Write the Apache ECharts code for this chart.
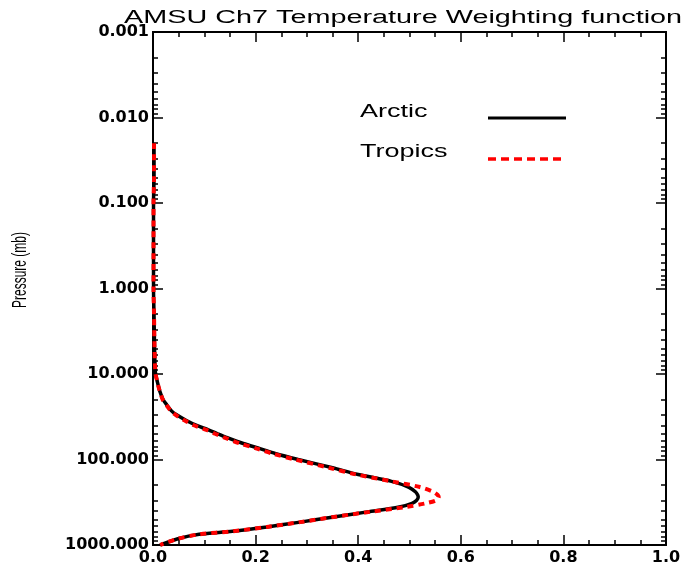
<!DOCTYPE html>
<html><head><meta charset="utf-8">
<script src="https://cdn.jsdelivr.net/npm/echarts@6/dist/echarts.min.js"></script>
<style>html,body{margin:0;padding:0;background:#fff}#c{width:697px;height:570px}</style>
</head><body><div id="c"></div>
<script>
// Pressure levels (mb)
const pressure = [0.02,0.05,0.1,0.2,0.5,1,2,5,8,10,12,15,17,20,23,27,30,35,40,45,50,55,65,75,85,100,125,150,180,210,240,260,275,300,325,360,410,470,540,615,690,750,850,1000];
// Weighting function values
const arctic = [0.002,0.002,0.001,0.001,0.001,0.001,0.002,0.003,0.004,0.005,0.008,0.012,0.015,0.020,0.027,0.036,0.046,0.065,0.085,0.108,0.126,0.143,0.176,0.210,0.238,0.283,0.350,0.400,0.465,0.498,0.512,0.516,0.517,0.514,0.505,0.480,0.418,0.352,0.287,0.222,0.155,0.090,0.047,0.014];
const tropics = [0.002,0.002,0.001,0.001,0.001,0.001,0.002,0.003,0.004,0.005,0.008,0.012,0.015,0.019,0.026,0.035,0.044,0.062,0.081,0.104,0.121,0.138,0.170,0.204,0.232,0.277,0.343,0.397,0.465,0.520,0.547,0.555,0.557,0.552,0.532,0.492,0.422,0.352,0.287,0.222,0.155,0.090,0.047,0.014];
// Tick values
const yMajorTicks = [0.001,0.01,0.1,1,10,100,1000];
const yMinorMultipliers = [2,3,4,5,6,7,8,9];
const xMin = 0, xMax = 1, xInterval = 0.2;
const seriesNames = ['Arctic','Tropics'];
const titleText = 'AMSU Ch7 Temperature Weighting function';
const yName = 'Pressure (mb)';

const yMinorTicks = [];
yMajorTicks.slice(0,-1).forEach(d => yMinorMultipliers.forEach(k => yMinorTicks.push(+(k*d).toPrecision(3))));

const labelFont = {color:'#000', fontFamily:'DejaVu Sans', fontSize:16, fontWeight:'bold'};

function yAx(pos, ticks, len, showLabel) {
  return {
    type:'log', logBase:10, min:0.001, max:1000, inverse:true, position:pos,
    axisLine:{show:true, onZero:false, lineStyle:{color:'#000', width:2}},
    axisTick:{show:true, inside:true, length:len, customValues:ticks, lineStyle:{color:'#000', width:1.5}},
    axisLabel: showLabel ? Object.assign({show:true, customValues:yMajorTicks, margin:4, formatter:v => Number(v).toFixed(3)}, labelFont) : {show:false},
    splitLine:{show:false}, minorTick:{show:false}, minorSplitLine:{show:false}
  };
}
function xAx(pos, showLabel) {
  return {
    type:'value', min:xMin, max:xMax, interval:xInterval, position:pos,
    axisLine:{show:true, onZero:false, lineStyle:{color:'#000', width:2}},
    axisTick:{show:true, inside:true, length:10, lineStyle:{color:'#000', width:1.5}},
    minorTick:{show:true, splitNumber:4, length:5, lineStyle:{color:'#000', width:1.5}},
    axisLabel: showLabel ? Object.assign({show:true, margin:5, formatter:v => Number(v).toFixed(1)}, labelFont) : {show:false},
    splitLine:{show:false}
  };
}

const chart = echarts.init(document.getElementById('c'), null, {renderer:'canvas'});
chart.setOption({
  animation:false,
  backgroundColor:'#fff',
  grid:{left:153, right:31, top:32, bottom:25, containLabel:false},
  xAxis:[xAx('bottom', true), xAx('top', false)],
  yAxis:[yAx('left', yMajorTicks, 10, true), yAx('left', yMinorTicks, 5, false), yAx('right', yMajorTicks, 10, false), yAx('right', yMinorTicks, 5, false)],
  series:[
    {name:seriesNames[0], type:'line', xAxisIndex:0, yAxisIndex:0, symbol:'none', smooth:0.3,
     data:pressure.map((p,i)=>[arctic[i], p]), lineStyle:{color:'#000', width:3.5}},
    {name:seriesNames[1], type:'line', xAxisIndex:0, yAxisIndex:0, symbol:'none', smooth:0.3,
     data:pressure.map((p,i)=>[tropics[i], p]), lineStyle:{color:'#ff0000', width:4, type:[6,5]}}
  ],
  graphic:[
    {type:'text', x:124, y:18, scaleX:1.6, style:{text:titleText, font:'18px "Liberation Sans"', fill:'#000', textAlign:'left', textVerticalAlign:'middle'}},
    {type:'text', x:20, y:270, rotation:Math.PI/2, scaleX:0.6, style:{text:yName, font:'20px "Liberation Sans"', fill:'#000', textAlign:'center', textVerticalAlign:'middle'}},
    {type:'text', x:360, y:112, scaleX:1.5, style:{text:seriesNames[0], font:'18px "Liberation Sans"', fill:'#000', textAlign:'left', textVerticalAlign:'middle'}},
    {type:'text', x:360, y:152, scaleX:1.5, style:{text:seriesNames[1], font:'18px "Liberation Sans"', fill:'#000', textAlign:'left', textVerticalAlign:'middle'}},
    {type:'line', shape:{x1:488, y1:118, x2:566, y2:118}, style:{stroke:'#000', lineWidth:3}},
    {type:'line', shape:{x1:488, y1:159, x2:566, y2:159}, style:{stroke:'#ff0000', lineWidth:3.5, lineDash:[8,5]}}
  ]
});
</script></body></html>
